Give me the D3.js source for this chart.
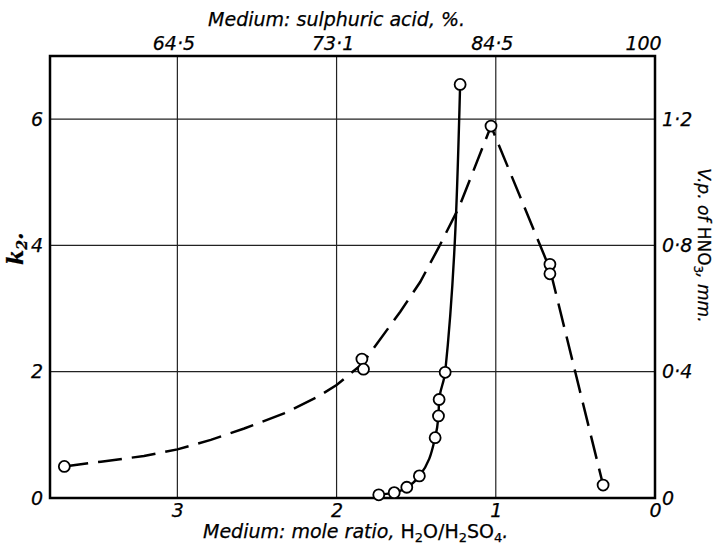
<!DOCTYPE html>
<html>
<head>
<meta charset="utf-8">
<script src="https://cdn.jsdelivr.net/npm/d3@7"></script>
<style>
  body { margin: 0; background: #fff; }
  svg { display: block; }
  text { font-family: "DejaVu Sans", "Noto Sans", sans-serif; fill: #000; stroke: #000; stroke-width: 0.25; }
  .tick-label { font-style: italic; font-size: 19px; }
  .title { font-style: italic; font-size: 19px; }
  .grid { stroke: #222; stroke-width: 1.2; }
  .frame { fill: none; stroke: #000; stroke-width: 2.5; }
</style>
</head>
<body>
<div id="chart"></div>
<script>
// bottom axis: mole ratio H2O/H2SO4, top axis: same positions as % H2SO4
const moleTicks = [3, 2, 1, 0];
const acidLabels = ["64·5", "73·1", "84·5", "100"];
const k2Ticks = [0, 2, 4, 6];
const vpTicks = [0, 0.4, 0.8, 1.2];
const vpLabels = ["0", "0·4", "0·8", "1·2"];

// k2 (solid line, left axis)
const k2Mole = [1.735, 1.638, 1.559, 1.480, 1.381, 1.360, 1.356, 1.318, 1.224];
const k2Vals = [0.05, 0.085, 0.17, 0.35, 0.955, 1.30, 1.56, 1.99, 6.55];

// v.p. of HNO3 (circles, right axis)
const vpMole = [3.71, 1.841, 1.831, 1.03, 0.66, 0.66, 0.326];
const vpVals = [0.10, 0.44, 0.408, 1.178, 0.74, 0.71, 0.041];

// dashed curve drawn through the v.p. points
const vpLineMole = [3.71, 3.48, 3.21, 3.00, 2.79, 2.58, 2.33, 2.12, 2.00, 1.84, 1.60, 1.475, 1.356, 1.23, 1.03, 0.66, 0.326];
const vpLineVals = [0.10, 0.115, 0.133, 0.154, 0.184, 0.22, 0.268, 0.32, 0.358, 0.424, 0.59, 0.684, 0.796, 0.922, 1.178, 0.725, 0.041];

const W = 715, H = 546;
const margin = { top: 56, right: 60, bottom: 48, left: 50 };
const width = W - margin.left - margin.right,
    height = H - margin.top - margin.bottom;

const x = d3.scaleLinear([3.8, 0], [0, width]);
const yK = d3.scaleLinear([0, 7], [height, 0]);
const yV = d3.scaleLinear([0, 1.4], [height, 0]);

const svg = d3.select("#chart")
    .append("svg")
    .attr("width", W)
    .attr("height", H);

const g = svg.append("g")
    .attr("transform", "translate(" + margin.left + "," + margin.top + ")");

// grid
g.append("g")
    .selectAll("line")
    .data(moleTicks.filter(d => d > 0))
    .enter()
    .append("line")
    .attr("class", "grid")
    .attr("x1", d => x(d)).attr("x2", d => x(d))
    .attr("y1", 0).attr("y2", height);

g.append("g")
    .selectAll("line")
    .data(k2Ticks.filter(d => d > 0))
    .enter()
    .append("line")
    .attr("class", "grid")
    .attr("y1", d => yK(d)).attr("y2", d => yK(d))
    .attr("x1", 0).attr("x2", width);

g.append("rect")
    .attr("class", "frame")
    .attr("width", width)
    .attr("height", height);

// tick labels through axes (no tick marks, the grid does that)
function plain(sel) {
    sel.select(".domain").remove();
    sel.selectAll(".tick line").remove();
    sel.selectAll(".tick text")
        .attr("class", "tick-label")
        .attr("fill", null);
    sel.attr("font-size", null).attr("font-family", null);
}

g.append("g")
    .attr("transform", "translate(0," + height + ")")
    .call(d3.axisBottom(x).tickValues(moleTicks).tickSize(0).tickPadding(6).tickFormat(d3.format("d")))
    .call(plain);

g.append("g")
    .call(d3.axisTop(x).tickValues(moleTicks).tickSize(0).tickPadding(6).tickFormat((d, i) => acidLabels[i]))
    .call(plain)
    .selectAll(".tick text")
    .attr("dx", (d, i) => i == 3 ? -12 : -4);

g.append("g")
    .call(d3.axisLeft(yK).tickValues(k2Ticks).tickSize(0).tickPadding(7).tickFormat(d3.format("d")))
    .call(plain);

g.append("g")
    .attr("transform", "translate(" + width + ",0)")
    .call(d3.axisRight(yV).tickValues(vpTicks).tickSize(0).tickPadding(7).tickFormat((d, i) => vpLabels[i]))
    .call(plain);

// axis titles
svg.append("text")
    .attr("class", "title")
    .attr("x", margin.left + x(2.0))
    .attr("y", 26)
    .attr("text-anchor", "middle")
    .text("Medium: sulphuric acid, %.");

const bt = svg.append("text")
    .attr("class", "title")
    .attr("x", margin.left + x(1.88))
    .attr("y", 538)
    .attr("text-anchor", "middle");
bt.append("tspan").text("Medium: mole ratio, ");
bt.append("tspan").style("font-style", "normal").text("H");
bt.append("tspan").style("font-style", "normal").style("font-size", "13px").attr("dy", 4).text("2");
bt.append("tspan").style("font-style", "normal").attr("dy", -4).text("O/H");
bt.append("tspan").style("font-style", "normal").style("font-size", "13px").attr("dy", 4).text("2");
bt.append("tspan").style("font-style", "normal").attr("dy", -4).text("SO");
bt.append("tspan").style("font-style", "normal").style("font-size", "13px").attr("dy", 4).text("4");
bt.append("tspan").attr("dy", -4).text(".");

const lt = svg.append("text")
    .attr("transform", "translate(23," + (margin.top + yK(3.95)) + ") rotate(-90)")
    .attr("text-anchor", "middle")
    .style("font-family", "'DejaVu Serif', serif")
    .style("font-style", "italic")
    .style("font-weight", "bold")
    .style("font-size", "22px");
lt.append("tspan").text("k");
lt.append("tspan").style("font-size", "14px").attr("dy", 4).text("2");
lt.append("tspan").attr("dy", -4).text(".");

const rt = svg.append("text")
    .attr("class", "title")
    .style("font-size", "17px")
    .attr("transform", "translate(698," + (margin.top + yV(0.8)) + ") rotate(90)")
    .attr("text-anchor", "middle");
rt.append("tspan").text("V.p. of ");
rt.append("tspan").style("font-style", "normal").text("HNO");
rt.append("tspan").style("font-style", "normal").style("font-size", "12px").attr("dy", 4).text("3");
rt.append("tspan").attr("dy", -4).text(", mm.");

// dashed v.p. curve
const vpLine = d3.line()
    .x(d => x(d[0]))
    .y(d => yV(d[1]))
    .curve(d3.curveLinear);

g.append("path")
    .datum(d3.zip(vpLineMole, vpLineVals))
    .attr("fill", "none")
    .attr("stroke", "#000")
    .attr("stroke-width", 2.5)
    .attr("stroke-dasharray", "24,10")
    .attr("d", vpLine);

// solid k2 curve
const k2Line = d3.line()
    .x(d => x(d[0]))
    .y(d => yK(d[1]))
    .curve(d3.curveMonotoneY);

g.append("path")
    .datum(d3.zip(k2Mole, k2Vals).reverse())
    .attr("fill", "none")
    .attr("stroke", "#000")
    .attr("stroke-width", 2.4)
    .attr("d", k2Line);

// markers
g.append("g")
    .selectAll("circle")
    .data(d3.zip(vpMole, vpVals))
    .enter()
    .append("circle")
    .attr("cx", d => x(d[0]))
    .attr("cy", d => yV(d[1]))
    .attr("r", 5.5)
    .attr("fill", "#fff")
    .attr("stroke", "#000")
    .attr("stroke-width", 1.8);

g.append("g")
    .selectAll("circle")
    .data(d3.zip(k2Mole, k2Vals))
    .enter()
    .append("circle")
    .attr("cx", d => x(d[0]))
    .attr("cy", d => yK(d[1]))
    .attr("r", 5.5)
    .attr("fill", "#fff")
    .attr("stroke", "#000")
    .attr("stroke-width", 1.8);
</script>
</body>
</html>
